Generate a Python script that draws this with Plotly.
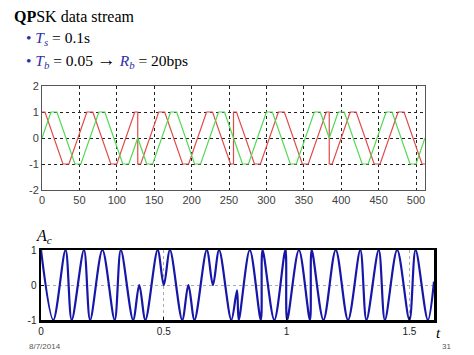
import plotly.graph_objects as go

# ---------------- data ----------------
# top panel: red and green waveforms (corner points of the clipped waves)
red_x = [0, 4, 28, 36, 60, 68, 92, 100, 124, 128,
         128, 132, 156, 164, 188, 196, 220, 228, 252, 256,
         256, 260, 284, 292, 316, 324, 348, 356, 380, 384,
         384, 388, 412, 420, 444, 452, 476, 484, 508, 512]
red_y = [1, 1, -1, -1, 1, 1, -1, -1, 1, 1,
         -1, -1, 1, 1, -1, -1, 1, 1, -1, -1,
         1, 1, -1, -1, 1, 1, -1, -1, 1, 1,
         -1, -1, 1, 1, -1, -1, 1, 1, -1, -1]

green_x = [0, 12, 20, 44, 52, 76, 84, 108, 116, 128,
           140, 148, 172, 180, 204, 212, 236, 244, 256,
           268, 276, 300, 308, 332, 340, 364, 372, 384,
           396, 404, 428, 436, 460, 468, 492, 500, 512]
green_y = [0, 1, 1, -1, -1, 1, 1, -1, -1, 0,
           -1, -1, 1, 1, -1, -1, 1, 1, 0,
           -1, -1, 1, 1, -1, -1, 1, 1, 0,
           1, 1, -1, -1, 1, 1, -1, -1, 0]

top_xticks = [0, 50, 100, 150, 200, 250, 300, 350, 400, 450, 500]
top_yticks = [-2, -1, 0, 1, 2]
top_yticktext = ["-2", "-1", "0", "1", "2"]

# bottom panel: modulated carrier A_c (peaks, troughs and turning points)
ac_t = [0, 0.05, 0.1, 0.125, 0.175, 0.2, 0.25, 0.3, 0.325, 0.375,
        0.4, 0.425, 0.475, 0.5, 0.525, 0.575, 0.6, 0.625, 0.675, 0.7,
        0.725, 0.775, 0.798, 0.805, 0.85, 0.895, 0.902, 0.95, 0.995, 1.002,
        1.05, 1.095, 1.102, 1.15, 1.2, 1.25, 1.3, 1.325, 1.375, 1.4,
        1.45, 1.5, 1.525, 1.575, 1.6]
ac_y = [1, -1, 1, -1, 1, -1, 1, -1, 1, -1,
        0, -1, 1, 0, 1, -1, 0, -1, 1, 0,
        1, -1, -0.15, -1, 1, -1, 1, -1, 1, -1,
        1, -1, 1, -1, 1, -1, 1, -1, 1, -1,
        1, -1, 1, -1, 0.1]

bot_xticks = [0, 0.5, 1, 1.5]
bot_xticktext = ["0", "0.5", "1", "1.5"]
bot_yticks = [-1, 0, 1]
bot_yticktext = ["-1", "0", "1"]

# ---------------- figure ----------------
W, H = 474, 355


def fx(p):
    return p / W


def fy(p):
    return 1 - p / H


fig = go.Figure()
fig.add_trace(go.Scatter(x=red_x, y=red_y, mode="lines",
                         line=dict(color="#e04a4a", width=1.2),
                         xaxis="x", yaxis="y", hoverinfo="skip"))
fig.add_trace(go.Scatter(x=green_x, y=green_y, mode="lines",
                         line=dict(color="#52d852", width=1.2),
                         xaxis="x", yaxis="y", hoverinfo="skip"))
fig.add_trace(go.Scatter(x=ac_t, y=ac_y, mode="lines",
                         line=dict(color="#1616a8", width=2.2,
                                   shape="spline", smoothing=0.9),
                         xaxis="x2", yaxis="y2", hoverinfo="skip"))

tick_font = dict(family="Liberation Sans", size=11, color="#404040")
bot_font = dict(family="Liberation Sans", size=10, color="#222222")

fig.update_layout(
    width=W, height=H,
    margin=dict(l=0, r=0, t=0, b=0, autoexpand=False),
    paper_bgcolor="white", plot_bgcolor="white",
    showlegend=False,
    xaxis=dict(domain=[fx(42), fx(425)], range=[0, 512], tickvals=top_xticks,
               showgrid=True, gridcolor="#222222", griddash="dot", gridwidth=1,
               zeroline=False, showline=True, linecolor="#555555", linewidth=1,
               mirror=True, ticks="", tickfont=tick_font, anchor="y",
               automargin=False),
    yaxis=dict(domain=[fy(190), fy(86)], range=[-2, 2], tickvals=top_yticks,
               ticktext=top_yticktext,
               showgrid=True, gridcolor="#222222", griddash="dot", gridwidth=1,
               zeroline=False, showline=True, linecolor="#555555", linewidth=1,
               mirror=True, ticks="", tickfont=tick_font, anchor="x",
               automargin=False),
    xaxis2=dict(domain=[fx(41), fx(434)], range=[0, 1.6], tickvals=bot_xticks,
                ticktext=bot_xticktext,
                showgrid=True, gridcolor="#aaaaaa", griddash="dot", gridwidth=1,
                zeroline=False, showline=True, linecolor="black", linewidth=2.5,
                mirror=True, ticks="inside", ticklen=3, tickcolor="black",
                tickfont=bot_font, anchor="y2", automargin=False),
    yaxis2=dict(domain=[fy(320), fy(250)], range=[-1, 1], tickvals=bot_yticks,
                ticktext=bot_yticktext,
                showgrid=True, gridcolor="#aaaaaa", griddash="dot", gridwidth=1,
                zeroline=False, showline=True, linecolor="black", linewidth=2.5,
                mirror=True, ticks="inside", ticklen=3, tickcolor="black",
                tickfont=bot_font, anchor="x2", automargin=False),
)

serif = "Liberation Serif"
blue = "#2e2eaa"
ann = [
    dict(text="<b>QP</b>SK data stream", x=fx(12), y=fy(16),
         font=dict(family=serif, size=16, color="black")),
    dict(text="<span style='color:%s'>•</span> <i><span style='color:%s'>T</span></i>"
              "<sub><i><span style='color:%s'>s</span></i></sub> = 0.1s" % (blue, blue, blue),
         x=fx(24), y=fy(39), font=dict(family=serif, size=15.5, color="black")),
    dict(text="<span style='color:%s'>•</span> <i><span style='color:%s'>T</span></i>"
              "<sub><i><span style='color:%s'>b</span></i></sub> = 0.05 "
              "<b><span style='font-size:19px'>→</span></b> "
              "<i><span style='color:%s'>R</span></i><sub><i><span style='color:%s'>b</span></i></sub>"
              " = 20bps" % (blue, blue, blue, blue, blue),
         x=fx(24), y=fy(60), font=dict(family=serif, size=15.5, color="black")),
    dict(text="<i>A</i><sub><i>c</i></sub>", x=fx(34), y=fy(236),
         font=dict(family=serif, size=16, color="black")),
    dict(text="<i>t</i>", x=fx(434), y=fy(333),
         font=dict(family=serif, size=15, color="black")),
    dict(text="8/7/2014", x=fx(27), y=fy(346),
         font=dict(family="Liberation Sans", size=8, color="#555555")),
    dict(text="31", x=fx(440), y=fy(346),
         font=dict(family="Liberation Sans", size=8, color="#555555")),
]
for a in ann:
    a.update(xref="paper", yref="paper", xanchor="left", yanchor="middle",
             showarrow=False)
fig.update_layout(annotations=ann)

fig.write_html("out.html",
               config={"displayModeBar": False, "staticPlot": True},
               post_script="document.body.style.margin='0';"
                           "document.body.style.overflow='hidden';")
